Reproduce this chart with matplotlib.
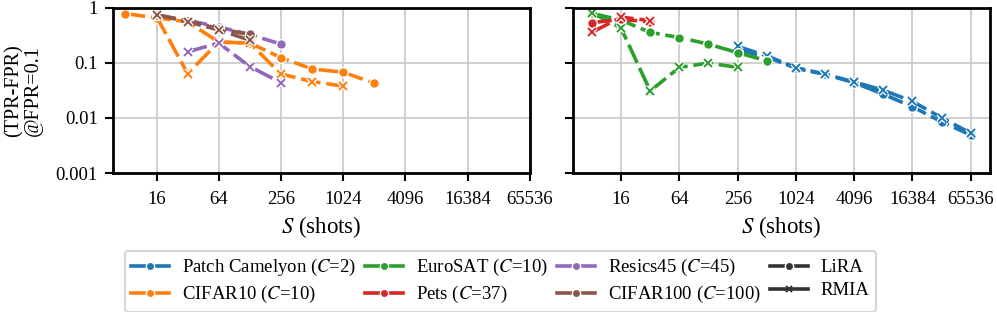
import numpy as np
import matplotlib
matplotlib.use("Agg")
import matplotlib.pyplot as plt
from matplotlib.lines import Line2D

plt.rcParams['font.family'] = ['Liberation Serif', 'DejaVu Serif']
plt.rcParams['mathtext.fontset'] = 'stix'

# ---- data ----
shots_cifar10_lira = [8, 16, 32, 64, 128, 256, 512, 1024, 2048]
cifar10_lira = [0.79, 0.66, 0.56, 0.24, 0.23, 0.125, 0.078, 0.068, 0.043]
shots_cifar10_rmia = [16, 32, 64, 128, 256, 512, 1024]
cifar10_rmia = [0.70, 0.064, 0.24, 0.23, 0.063, 0.046, 0.038]

shots_resics = [32, 64, 128, 256]
resics_lira = [0.60, 0.45, 0.33, 0.22]
resics_rmia = [0.16, 0.23, 0.086, 0.044]

shots_cifar100 = [16, 32, 64, 128]
cifar100_lira = [0.76, 0.58, 0.42, 0.33]
cifar100_rmia = [0.75, 0.56, 0.40, 0.26]

shots_eurosat_lira = [8, 16, 32, 64, 128, 256, 512]
eurosat_lira = [0.80, 0.60, 0.36, 0.29, 0.22, 0.154, 0.11]
shots_eurosat_rmia = [8, 16, 32, 64, 128, 256]
eurosat_rmia = [0.82, 0.43, 0.031, 0.083, 0.10, 0.083]

shots_pets = [8, 16, 32]
pets_lira = [0.54, 0.62, 0.56]
pets_rmia = [0.36, 0.68, 0.59]

shots_patch = [256, 512, 1024, 2048, 4096, 8192, 16384, 32768, 65536]
patch_lira = [0.17, 0.13, 0.080, 0.062, 0.044, 0.027, 0.016, 0.0085, 0.0049]
patch_rmia = [0.20, 0.135, 0.082, 0.063, 0.045, 0.032, 0.020, 0.0101, 0.0053]

xticks = [16, 64, 256, 1024, 4096, 16384, 65536]
yticks = [0.001, 0.01, 0.1, 1]
ytick_labels = ['0.001', '0.01', '0.1', '1']

c_blue, c_orange, c_green = '#1f77b4', '#ff7f0e', '#2ca02c'
c_red, c_purple, c_brown = '#d62728', '#9467bd', '#8c564b'

dash = (0, (5.5, 1.6))
lw = 2.6


def draw(ax, x, y, color, marker):
    if marker == 'o':
        ax.plot(x, y, color=color, lw=lw, ls=dash, marker='o', ms=7,
                mec='white', mew=1.0)
    else:
        ax.plot(x, y, color=color, lw=lw, ls=dash)
        ax.plot(x, y, ls='none', marker='x', ms=6, mew=3.2, mec='white')
        ax.plot(x, y, ls='none', marker='x', ms=6, mew=1.4, mec=color)


fig = plt.figure(figsize=(9.97, 3.12), dpi=100)
ax1 = fig.add_axes([0.1133, 0.4455, 0.418, 0.529])
ax2 = fig.add_axes([0.5747, 0.4455, 0.418, 0.529])

# left panel
draw(ax1, shots_cifar10_lira, cifar10_lira, c_orange, 'o')
draw(ax1, shots_cifar10_rmia, cifar10_rmia, c_orange, 'x')
draw(ax1, shots_resics, resics_lira, c_purple, 'o')
draw(ax1, shots_resics, resics_rmia, c_purple, 'x')
draw(ax1, shots_cifar100, cifar100_lira, c_brown, 'o')
draw(ax1, shots_cifar100, cifar100_rmia, c_brown, 'x')

# right panel
draw(ax2, shots_patch, patch_lira, c_blue, 'o')
draw(ax2, shots_patch, patch_rmia, c_blue, 'x')
draw(ax2, shots_eurosat_lira, eurosat_lira, c_green, 'o')
draw(ax2, shots_eurosat_rmia, eurosat_rmia, c_green, 'x')
draw(ax2, shots_pets, pets_lira, c_red, 'o')
draw(ax2, shots_pets, pets_rmia, c_red, 'x')

for ax in (ax1, ax2):
    ax.set_xscale('log', base=2)
    ax.set_yscale('log')
    ax.set_ylim(0.001, 1)
    ax.set_yticks(yticks)
    ax.set_yticklabels(ytick_labels)
    ax.minorticks_off()
    ax.set_xticks(xticks)
    ax.set_xticklabels([str(t) for t in xticks])
    ax.grid(True, color='#cccccc', lw=1.3)
    ax.set_axisbelow(True)
    for s in ax.spines.values():
        s.set_color('black')
        s.set_linewidth(2.0)
    ax.tick_params(axis='both', direction='out', length=6, width=1.5,
                   color='black', labelsize=13.5, pad=5)
    ax.tick_params(axis='x', pad=7)
    ax.set_xlabel('$S$ (shots)', fontsize=16.5, labelpad=4)

ax1.set_xlim(8 / 2 ** 0.4, 65536)
ax2.tick_params(axis='y', labelleft=False)
ax1.set_ylabel('(TPR-FPR)\n@FPR=0.1', fontsize=14.5, linespacing=1.05,
               labelpad=9)

handles = [
    Line2D([], [], color=c_blue, lw=lw, marker='o', ms=6, mec='white'),
    Line2D([], [], color=c_orange, lw=lw, marker='o', ms=6, mec='white'),
    Line2D([], [], color=c_green, lw=lw, marker='o', ms=6, mec='white'),
    Line2D([], [], color=c_red, lw=lw, marker='o', ms=6, mec='white'),
    Line2D([], [], color=c_purple, lw=lw, marker='o', ms=6, mec='white'),
    Line2D([], [], color=c_brown, lw=lw, marker='o', ms=6, mec='white'),
    Line2D([], [], color='#333333', lw=lw, marker='o', ms=6, mec='white'),
    Line2D([], [], color='#333333', lw=lw, marker='x', ms=5, mew=1.4,
           mec='#333333'),
]
labels = [
    'Patch Camelyon ($C$=2)', 'CIFAR10 ($C$=10)',
    'EuroSAT ($C$=10)', 'Pets ($C$=37)',
    'Resics45 ($C$=45)', 'CIFAR100 ($C$=100)',
    'LiRA', 'RMIA',
]
leg = fig.legend(handles, labels, ncol=4, loc='lower center',
                 bbox_to_anchor=(0.502, -0.03), fontsize=13.5, frameon=True,
                 edgecolor='#cccccc', fancybox=True, handlelength=2.0,
                 columnspacing=0.5, handletextpad=0.7, borderpad=0.35,
                 labelspacing=0.32)
leg.get_frame().set_linewidth(1.5)

fig.savefig('out.png', dpi=100)
